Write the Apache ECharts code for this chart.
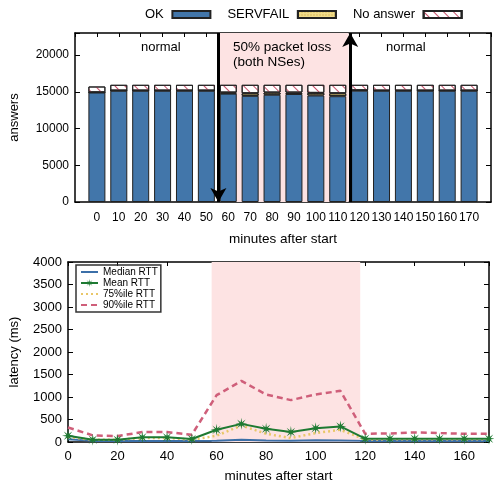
<!DOCTYPE html>
<html>
<head>
<meta charset="utf-8">
<script src="https://cdn.jsdelivr.net/npm/echarts@6/dist/echarts.min.js"></script>
<style>
  html, body { margin: 0; padding: 0; background: #fff; }
  #chart { width: 494px; height: 484px; }
</style>
</head>
<body>
<div id="chart"></div>
<script>
// top panel: answers per 10 minute bucket
var minutes = [0, 10, 20, 30, 40, 50, 60, 70, 80, 90, 100, 110, 120, 130, 140, 150, 160, 170];
var okCount = [14900, 15150, 15150, 15150, 15150, 15150, 14750, 14450, 14600, 14700, 14500, 14400, 15150, 15150, 15150, 15150, 15150, 15150];
var servfailCount = [30, 20, 20, 20, 20, 20, 150, 350, 300, 200, 350, 400, 60, 20, 20, 20, 20, 20];
var noAnswerCount = [790, 780, 780, 780, 780, 780, 1050, 1150, 1050, 1050, 1100, 1150, 740, 780, 780, 780, 780, 780];

// bottom panel: latency (ms)
var medianRtt = [60, 25, 25, 25, 25, 25, 30, 50, 35, 30, 40, 35, 25, 25, 25, 25, 25, 25];
var meanRtt = [139, 51, 51, 103, 103, 66, 271, 403, 293, 220, 308, 345, 73, 73, 73, 73, 73, 73];
var p75Rtt = [110, 50, 50, 90, 90, 50, 140, 367, 183, 88, 198, 271, 55, 60, 60, 60, 60, 60];
var p90Rtt = [323, 147, 132, 220, 220, 161, 1040, 1357, 1056, 931, 1056, 1137, 183, 190, 213, 198, 183, 183];

// outage window (minutes)
var lossStart = 55.5, lossEnd = 115.7;

// one empty slot on each side of the bar axis
function padded(arr, fill) {
  return [fill].concat(arr, [fill]);
}
function pairs(ys) {
  return ys.map(function (y, i) { return [minutes[i], y]; });
}

// asterisk-like marker
function starPath(n, r1, r2) {
  var d = '';
  for (var i = 0; i < n * 2; i++) {
    var r = i % 2 ? r2 : r1;
    var a = Math.PI * i / n;
    d += (i ? 'L' : 'M') + (r * Math.sin(a)).toFixed(3) + ' ' + (-r * Math.cos(a)).toFixed(3);
  }
  return 'path://' + d + 'Z';
}

var chart = echarts.init(document.getElementById('chart'));
var font = 'Liberation Sans, Arial, sans-serif';
var lineOnly = { opacity: 0 };

// box frame: keep every axis line on its own edge
function frame() {
  return { onZero: false, lineStyle: { color: '#000', width: 1.5 } };
}
function ticksIn(len) {
  return { inside: true, length: len, lineStyle: { color: '#000' } };
}

chart.setOption({
  animation: false,
  backgroundColor: '#fff',
  textStyle: { fontFamily: font },
  legend: [{
    data: ['OK', 'SERVFAIL', 'No answer'],
    left: 140,
    top: 3,
    width: 400,
    align: 'right',
    icon: 'rect',
    itemWidth: 38,
    itemHeight: 7,
    itemGap: 16,
    formatter: function (name) { return name + ' '; },
    textStyle: { fontSize: 13, color: '#000' }
  }, {
    data: [
      { name: 'Median RTT', itemStyle: lineOnly },
      { name: 'Mean RTT' },
      { name: '75%ile RTT', itemStyle: lineOnly },
      { name: '90%ile RTT', itemStyle: lineOnly }
    ],
    orient: 'vertical',
    left: 76,
    top: 265,
    padding: [2, 3, 2, 4],
    itemGap: 1,
    itemWidth: 17,
    itemHeight: 10,
    borderColor: '#333',
    borderWidth: 1.5,
    borderRadius: 0,
    textStyle: { fontSize: 10, color: '#000' }
  }],
  grid: [
    { left: 72, top: 33, width: 421, height: 169 },
    { left: 68, top: 262, width: 421, height: 182 }
  ],
  xAxis: [{
    gridIndex: 0, type: 'category', boundaryGap: false,
    data: padded(minutes.map(String), ''),
    name: 'minutes after start', nameLocation: 'middle', nameGap: 30,
    nameTextStyle: { fontSize: 13.5, color: '#000' },
    axisLine: frame(), axisTick: { show: false }, splitLine: { show: false },
    axisLabel: { fontSize: 12, color: '#000', margin: 10, interval: 0 }
  }, {
    gridIndex: 0, type: 'value', position: 'top', min: -10, max: 180, interval: 10,
    axisLine: frame(), axisTick: ticksIn(4),
    axisLabel: { show: false }, splitLine: { show: false }
  }, {
    gridIndex: 1, type: 'value', min: 0, max: 170, interval: 20,
    name: 'minutes after start', nameLocation: 'middle', nameGap: 27,
    nameTextStyle: { fontSize: 13.5, color: '#000' },
    axisLine: frame(), axisTick: ticksIn(4), splitLine: { show: false },
    axisLabel: {
      fontSize: 13, color: '#000', margin: 8,
      formatter: function (v) { return v % 20 ? '' : String(v); }
    }
  }, {
    gridIndex: 1, type: 'value', position: 'top', min: 0, max: 170, interval: 20,
    axisLine: frame(), axisTick: ticksIn(4),
    axisLabel: { show: false }, splitLine: { show: false }
  }],
  yAxis: [{
    gridIndex: 0, type: 'value', min: 0, max: 23000, interval: 5000,
    name: 'answers', nameLocation: 'middle', nameGap: 54,
    nameTextStyle: { fontSize: 13, color: '#000' },
    axisLine: frame(), axisTick: ticksIn(5), splitLine: { show: false },
    axisLabel: {
      fontSize: 12, color: '#000', margin: 6,
      formatter: function (v) { return v % 5000 ? '' : String(v); }
    }
  }, {
    gridIndex: 0, type: 'value', position: 'right', min: 0, max: 23000, interval: 5000,
    axisLine: frame(), axisTick: ticksIn(5),
    axisLabel: { show: false }, splitLine: { show: false }
  }, {
    gridIndex: 1, type: 'value', min: 0, max: 4000, interval: 500,
    name: 'latency (ms)', nameLocation: 'middle', nameGap: 47,
    nameTextStyle: { fontSize: 13, color: '#000' },
    axisLine: frame(), axisTick: ticksIn(5), splitLine: { show: false },
    axisLabel: {
      fontSize: 13, color: '#000', margin: 6,
      formatter: function (v) { return String(v); }
    }
  }, {
    gridIndex: 1, type: 'value', position: 'right', min: 0, max: 4000, interval: 500,
    axisLine: frame(), axisTick: ticksIn(5),
    axisLabel: { show: false }, splitLine: { show: false }
  }],
  graphic: [
    { type: 'text', z: 100, left: 141, top: 41, style: { text: 'normal', font: '13px ' + font, fill: '#000' } },
    { type: 'text', z: 100, left: 386, top: 41, style: { text: 'normal', font: '13px ' + font, fill: '#000' } },
    { type: 'text', z: 100, left: 233, top: 40, style: { text: '50% packet loss\n(both NSes)', font: '13.5px ' + font, fill: '#000', align: 'center', lineHeight: 15 } }
  ],
  series: [{
    name: 'loss window', type: 'scatter', xAxisIndex: 1, yAxisIndex: 0, data: [], z: 0,
    markArea: {
      silent: true,
      itemStyle: { color: '#fde3e3' },
      data: [[{ xAxis: 56 }, { xAxis: 115 }]]
    }
  }, {
    name: 'OK', type: 'bar', xAxisIndex: 0, yAxisIndex: 0, stack: 'answers',
    barWidth: 17, data: padded(okCount, '-'),
    itemStyle: { color: '#4276aa', borderColor: '#222', borderWidth: 1 },
    z: 2
  }, {
    name: 'SERVFAIL', type: 'bar', xAxisIndex: 0, yAxisIndex: 0, stack: 'answers',
    barWidth: 17, data: padded(servfailCount, '-'),
    itemStyle: {
      color: '#f0dc8a', borderColor: '#222', borderWidth: 1,
      decal: { symbol: 'rect', symbolSize: 0.6, dashArrayX: [2, 1], dashArrayY: [2, 1], color: '#c9a640' }
    },
    z: 2
  }, {
    name: 'No answer', type: 'bar', xAxisIndex: 0, yAxisIndex: 0, stack: 'answers',
    barWidth: 17, data: padded(noAnswerCount, '-'),
    itemStyle: {
      color: '#fff', borderColor: '#222', borderWidth: 1,
      decal: { symbol: 'rect', dashArrayX: [1, 0], dashArrayY: [1, 6], rotation: Math.PI / 4, color: '#c8506a' }
    },
    z: 2
  }, {
    name: 'arrows', type: 'scatter', xAxisIndex: 1, yAxisIndex: 0, data: [], z: 5,
    markLine: {
      silent: true,
      symbol: ['none', 'arrow'],
      symbolSize: [12, 14],
      label: { show: false },
      lineStyle: { color: '#000', width: 3, type: 'solid' },
      data: [
        [{ coord: [lossStart, 23000] }, { coord: [lossStart, 0] }],
        [{ coord: [lossEnd, 0] }, { coord: [lossEnd, 23000] }]
      ]
    }
  }, {
    name: 'Median RTT', type: 'line', xAxisIndex: 2, yAxisIndex: 2,
    data: pairs(medianRtt), symbol: 'circle', showSymbol: false,
    lineStyle: { color: '#3b6fa8', width: 2 }, itemStyle: { color: '#3b6fa8' },
    markArea: {
      silent: true,
      itemStyle: { color: '#fde3e3' },
      data: [[{ xAxis: 58 }, { xAxis: 118 }]]
    }
  }, {
    name: '90%ile RTT', type: 'line', xAxisIndex: 2, yAxisIndex: 2,
    data: pairs(p90Rtt), symbol: 'circle', showSymbol: false,
    lineStyle: { color: '#cf5f7a', width: 2.5, type: [6, 4] }, itemStyle: { color: '#cf5f7a' }
  }, {
    name: '75%ile RTT', type: 'line', xAxisIndex: 2, yAxisIndex: 2,
    data: pairs(p75Rtt), symbol: 'circle', showSymbol: false,
    lineStyle: { color: '#e9c768', width: 2.5, type: [2, 3] }, itemStyle: { color: '#e9c768' }
  }, {
    name: 'Mean RTT', type: 'line', xAxisIndex: 2, yAxisIndex: 2,
    data: pairs(meanRtt),
    symbol: starPath(8, 1, 0.3), symbolSize: 12, showAllSymbol: true,
    lineStyle: { color: '#1e7a32', width: 2 }, itemStyle: { color: '#1e7a32' },
    z: 4
  }]
});
</script>
</body>
</html>
